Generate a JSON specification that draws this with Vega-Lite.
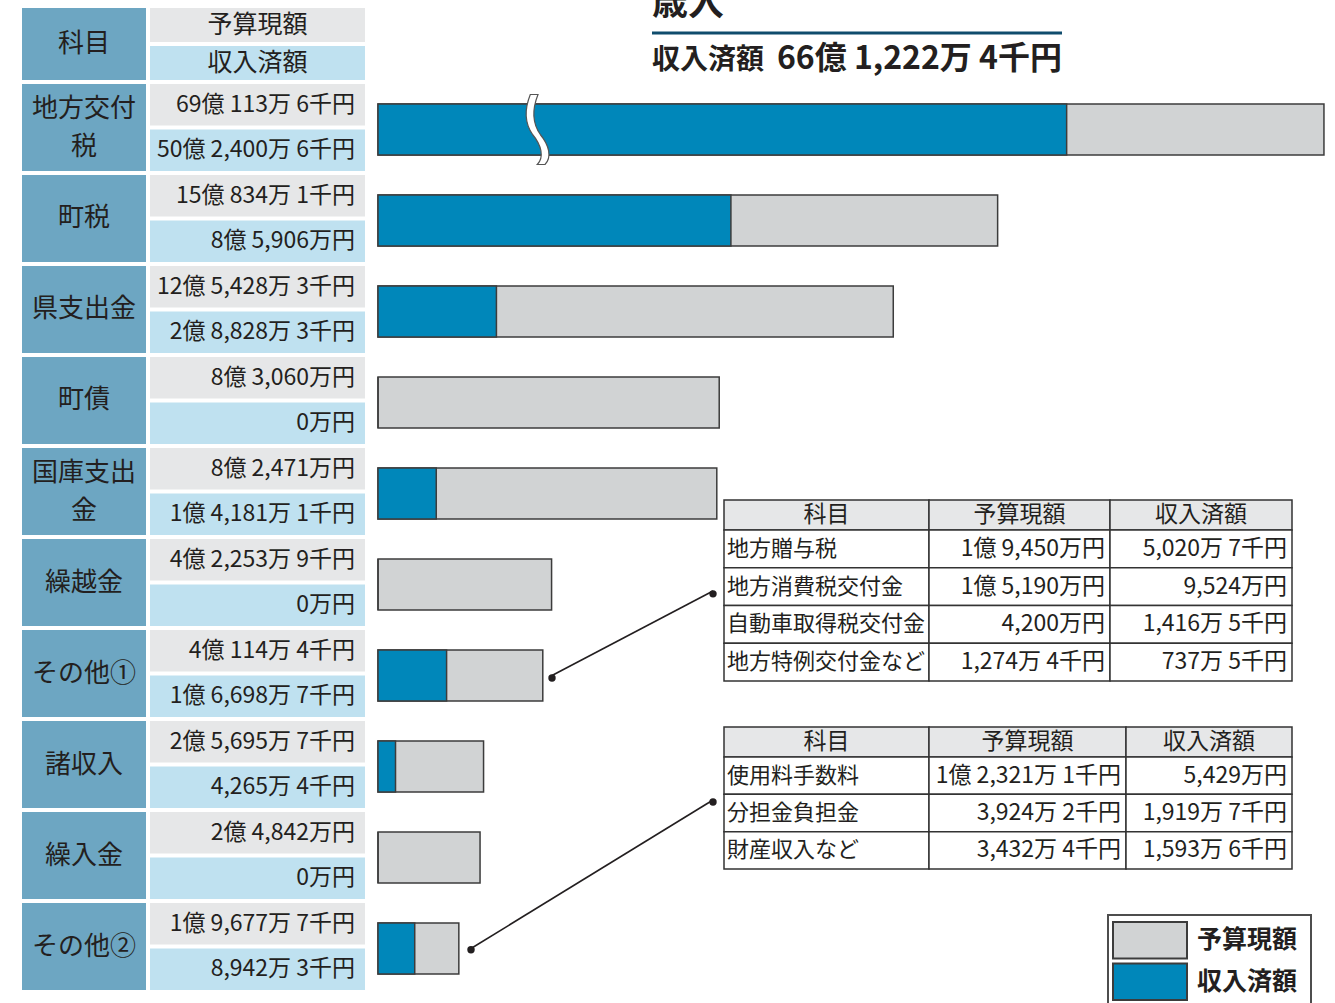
{
 "$schema": "https://vega.github.io/schema/vega-lite/v6.json",
 "background": "white",
 "padding": {"left": 22, "top": 0, "right": 0, "bottom": 0},
 "config": {"view": {"stroke": null}, "font": "Noto Sans CJK JP", "text": {"color": "#231f20"}},
 "datasets": {
  "items": [
   {"item": "地方交付税", "label": "地方交付\n税"},
   {"item": "町税", "label": "町税"},
   {"item": "県支出金", "label": "県支出金"},
   {"item": "町債", "label": "町債"},
   {"item": "国庫支出金", "label": "国庫支出\n金"},
   {"item": "繰越金", "label": "繰越金"},
   {"item": "その他①", "label": "その他①"},
   {"item": "諸収入", "label": "諸収入"},
   {"item": "繰入金", "label": "繰入金"},
   {"item": "その他②", "label": "その他②"}
  ],
  "amounts": [
   {"item": "地方交付税", "kind": "予算現額", "amount": 6901136, "text": "69億 113万 6千円"},
   {"item": "地方交付税", "kind": "収入済額", "amount": 5024006, "text": "50億 2,400万 6千円"},
   {"item": "町税", "kind": "予算現額", "amount": 1508341, "text": "15億 834万 1千円"},
   {"item": "町税", "kind": "収入済額", "amount": 859060, "text": "8億 5,906万円"},
   {"item": "県支出金", "kind": "予算現額", "amount": 1254283, "text": "12億 5,428万 3千円"},
   {"item": "県支出金", "kind": "収入済額", "amount": 288283, "text": "2億 8,828万 3千円"},
   {"item": "町債", "kind": "予算現額", "amount": 830600, "text": "8億 3,060万円"},
   {"item": "町債", "kind": "収入済額", "amount": 0, "text": "0万円"},
   {"item": "国庫支出金", "kind": "予算現額", "amount": 824710, "text": "8億 2,471万円"},
   {"item": "国庫支出金", "kind": "収入済額", "amount": 141811, "text": "1億 4,181万 1千円"},
   {"item": "繰越金", "kind": "予算現額", "amount": 422539, "text": "4億 2,253万 9千円"},
   {"item": "繰越金", "kind": "収入済額", "amount": 0, "text": "0万円"},
   {"item": "その他①", "kind": "予算現額", "amount": 401144, "text": "4億 114万 4千円"},
   {"item": "その他①", "kind": "収入済額", "amount": 166987, "text": "1億 6,698万 7千円"},
   {"item": "諸収入", "kind": "予算現額", "amount": 256957, "text": "2億 5,695万 7千円"},
   {"item": "諸収入", "kind": "収入済額", "amount": 42654, "text": "4,265万 4千円"},
   {"item": "繰入金", "kind": "予算現額", "amount": 248420, "text": "2億 4,842万円"},
   {"item": "繰入金", "kind": "収入済額", "amount": 0, "text": "0万円"},
   {"item": "その他②", "kind": "予算現額", "amount": 196777, "text": "1億 9,677万 7千円"},
   {"item": "その他②", "kind": "収入済額", "amount": 89423, "text": "8,942万 3千円"}
  ],
  "total": [{"heading": "歳入", "label": "収入済額", "amount": "66億 1,222万 4千円"}],
  "table1": [
   {"科目": "地方贈与税", "予算現額": "1億 9,450万円", "収入済額": "5,020万 7千円"},
   {"科目": "地方消費税交付金", "予算現額": "1億 5,190万円", "収入済額": "9,524万円"},
   {"科目": "自動車取得税交付金", "予算現額": "4,200万円", "収入済額": "1,416万 5千円"},
   {"科目": "地方特例交付金など", "予算現額": "1,274万 4千円", "収入済額": "737万 5千円"}
  ],
  "table2": [
   {"科目": "使用料手数料", "予算現額": "1億 2,321万 1千円", "収入済額": "5,429万円"},
   {"科目": "分担金負担金", "予算現額": "3,924万 2千円", "収入済額": "1,919万 7千円"},
   {"科目": "財産収入など", "予算現額": "3,432万 4千円", "収入済額": "1,593万 6千円"}
  ]
 },
 "spacing": 12,
 "hconcat": [
  {
   "spacing": 4,
   "vconcat": [
    {"spacing": 4, "bounds": "flush", "hconcat": [
     {
      "width": 124, "height": 80,
      "data": {"values": [{"col": "科目"}]},
      "encoding": {
       "x": {"field": "col", "type": "nominal", "axis": null, "scale": {"paddingInner": 0, "paddingOuter": 0}},
       "y": {"field": "col", "type": "nominal", "axis": null, "scale": {"range": [8, 80], "paddingInner": 0, "paddingOuter": 0}}
      },
      "layer": [
       {"mark": {"type": "rect", "fill": "#6da6c2"}},
       {"mark": {"type": "text", "fontSize": 26}, "encoding": {"text": {"field": "col"}}}
      ]
     },
     {
      "width": 215, "height": 80,
      "data": {"values": [{"kind": "予算現額"}, {"kind": "収入済額"}]},
      "encoding": {
       "x": {"datum": "金額", "type": "nominal", "axis": null, "scale": {"paddingInner": 0, "paddingOuter": 0}},
       "y": {"field": "kind", "type": "nominal", "axis": null, "sort": null, "scale": {"range": [8, 80], "paddingInner": 0.105, "paddingOuter": 0}}
      },
      "layer": [
       {"mark": {"type": "rect"}, "encoding": {"fill": {"field": "kind", "type": "nominal", "scale": {"domain": ["予算現額", "収入済額"], "range": ["#e6e7e8", "#bfe1f0"]}, "legend": null}}},
       {"mark": {"type": "text", "fontSize": 25}, "encoding": {"text": {"field": "kind"}}}
      ]
     }
    ]},
    {"spacing": 4, "bounds": "flush", "hconcat": [
     {
      "width": 124, "height": 906,
      "data": {"name": "items"},
      "encoding": {
       "x": {"datum": "科目", "type": "nominal", "axis": null, "scale": {"paddingInner": 0, "paddingOuter": 0}},
       "y": {"field": "item", "type": "nominal", "axis": null, "scale": {"domain": ["地方交付税", "町税", "県支出金", "町債", "国庫支出金", "繰越金", "その他①", "諸収入", "繰入金", "その他②"], "paddingInner": 0.044, "paddingOuter": 0}}
      },
      "layer": [
       {"mark": {"type": "rect", "fill": "#6da6c2"}},
       {"transform": [{"filter": "indexof(datum.label, '\\n') < 0"}], "mark": {"type": "text", "fontSize": 26}, "encoding": {"text": {"field": "label"}}},
       {"transform": [{"filter": "indexof(datum.label, '\\n') >= 0"}], "mark": {"type": "text", "fontSize": 26, "lineBreak": "\n", "lineHeight": 38, "dy": -18}, "encoding": {"text": {"field": "label"}}}
      ]
     },
     {
      "width": 215, "height": 906,
      "data": {"name": "amounts"},
      "encoding": {
       "x": {"datum": "金額", "type": "nominal", "axis": null, "scale": {"paddingInner": 0, "paddingOuter": 0}},
       "y": {"field": "item", "type": "nominal", "axis": null, "scale": {"domain": ["地方交付税", "町税", "県支出金", "町債", "国庫支出金", "繰越金", "その他①", "諸収入", "繰入金", "その他②"], "paddingInner": 0.044, "paddingOuter": 0}},
       "yOffset": {"field": "kind", "type": "nominal", "scale": {"domain": ["予算現額", "収入済額"], "paddingInner": 0.088, "paddingOuter": 0}}
      },
      "layer": [
       {"mark": {"type": "rect"}, "encoding": {"fill": {"field": "kind", "type": "nominal", "scale": {"domain": ["予算現額", "収入済額"], "range": ["#e6e7e8", "#bfe1f0"]}, "legend": null}}},
       {"mark": {"type": "text", "align": "right", "dx": -10, "fontSize": 23}, "encoding": {"x": {"datum": "金額", "type": "nominal", "bandPosition": 1, "axis": null, "scale": {"paddingInner": 0, "paddingOuter": 0}}, "text": {"field": "text"}}}
      ]
     }
    ]}
   ]
  },
  {
   "spacing": 4, "bounds": "flush", "center": true,
   "vconcat": [
    {
     "width": 410, "height": 80,
     "data": {"name": "total"},
     "layer": [
      {"mark": {"type": "text", "align": "left", "dx": -205, "dy": -36, "fontSize": 36, "fontWeight": "bold", "clip": true}, "encoding": {"text": {"field": "heading"}}},
      {"mark": {"type": "rule", "color": "#0f4c6d", "strokeWidth": 3, "yOffset": -7}, "encoding": {"y": {"field": "heading", "type": "nominal", "axis": null}}},
      {"mark": {"type": "text", "align": "left", "dx": -205, "dy": 21, "fontSize": 28, "fontWeight": "bold"}, "encoding": {"text": {"field": "label"}}},
      {"mark": {"type": "text", "align": "right", "dx": 205, "dy": 19, "fontSize": 32, "fontWeight": "bold"}, "encoding": {"text": {"field": "amount"}}}
     ]
    },
    {
     "width": 958, "height": 906,
     "resolve": {"scale": {"x": "independent", "y": "independent"}},
     "layer": [
      {
       "data": {"name": "amounts"},
       "transform": [{"filter": "datum.item !== '地方交付税'"}],
       "encoding": {
        "x": {"field": "amount", "type": "quantitative", "axis": null, "scale": {"domain": [0, 2332000], "nice": false, "zero": true}},
        "y": {"field": "item", "type": "nominal", "axis": null, "scale": {"domain": ["地方交付税", "町税", "県支出金", "町債", "国庫支出金", "繰越金", "その他①", "諸収入", "繰入金", "その他②"], "paddingInner": 0.43956, "paddingOuter": 0.1978, "align": 0.5556}}
       },
       "layer": [
        {"transform": [{"filter": "datum.kind === '予算現額'"}], "mark": {"type": "bar", "stroke": "#3c3c3c", "strokeWidth": 1.5},
         "encoding": {"color": {"field": "kind", "type": "nominal", "scale": {"domain": ["予算現額", "収入済額"], "range": ["#d1d3d4", "#0087ba"]}, "legend": null}}},
        {"transform": [{"filter": "datum.kind === '収入済額'"}], "mark": {"type": "bar", "stroke": "#3c3c3c", "strokeWidth": 1.5},
         "encoding": {"color": {"field": "kind", "type": "nominal", "legend": null}}}
       ]
      },
      {"data": {"values": [{"from": "その他①"}]}, "mark": {"type": "rule", "color": "#231f20", "strokeWidth": 1.6},
       "encoding": {
        "x": {"datum": 815470, "type": "quantitative", "axis": null, "scale": {"domain": [0, 2332000], "nice": false, "zero": true}},
        "x2": {"datum": 423560},
        "y": {"datum": "繰越金", "type": "nominal", "bandPosition": 0.627, "axis": null, "scale": {"domain": ["地方交付税", "町税", "県支出金", "町債", "国庫支出金", "繰越金", "その他①", "諸収入", "繰入金", "その他②"], "paddingInner": 0.43956, "paddingOuter": 0.1978, "align": 0.5556}},
        "y2": {"datum": "その他①"}}},
      {"data": {"values": [{"from": "その他①"}]}, "mark": {"type": "point", "filled": true, "color": "#231f20", "size": 55, "opacity": 1, "yOffset": 6.5},
       "encoding": {
        "x": {"datum": 815470, "type": "quantitative", "axis": null, "scale": {"domain": [0, 2332000], "nice": false, "zero": true}},
        "y": {"datum": "繰越金", "type": "nominal", "axis": null, "scale": {"domain": ["地方交付税", "町税", "県支出金", "町債", "国庫支出金", "繰越金", "その他①", "諸収入", "繰入金", "その他②"], "paddingInner": 0.43956, "paddingOuter": 0.1978, "align": 0.5556}}}},
      {"data": {"values": [{"from": "その他①"}]}, "mark": {"type": "point", "filled": true, "color": "#231f20", "size": 55, "opacity": 1},
       "encoding": {
        "x": {"datum": 423560, "type": "quantitative", "axis": null, "scale": {"domain": [0, 2332000], "nice": false, "zero": true}},
        "y": {"datum": "その他①", "type": "nominal", "axis": null, "scale": {"domain": ["地方交付税", "町税", "県支出金", "町債", "国庫支出金", "繰越金", "その他①", "諸収入", "繰入金", "その他②"], "paddingInner": 0.43956, "paddingOuter": 0.1978, "align": 0.5556}}}},
      {"data": {"values": [{"from": "その他②"}]}, "mark": {"type": "rule", "color": "#231f20", "strokeWidth": 1.6},
       "encoding": {
        "x": {"datum": 815470, "type": "quantitative", "axis": null, "scale": {"domain": [0, 2332000], "nice": false, "zero": true}},
        "x2": {"datum": 226380},
        "y": {"datum": "諸収入", "type": "nominal", "bandPosition": 1.157, "axis": null, "scale": {"domain": ["地方交付税", "町税", "県支出金", "町債", "国庫支出金", "繰越金", "その他①", "諸収入", "繰入金", "その他②"], "paddingInner": 0.43956, "paddingOuter": 0.1978, "align": 0.5556}},
        "y2": {"datum": "その他②"}}},
      {"data": {"values": [{"from": "その他②"}]}, "mark": {"type": "point", "filled": true, "color": "#231f20", "size": 55, "opacity": 1, "yOffset": 33.5},
       "encoding": {
        "x": {"datum": 815470, "type": "quantitative", "axis": null, "scale": {"domain": [0, 2332000], "nice": false, "zero": true}},
        "y": {"datum": "諸収入", "type": "nominal", "axis": null, "scale": {"domain": ["地方交付税", "町税", "県支出金", "町債", "国庫支出金", "繰越金", "その他①", "諸収入", "繰入金", "その他②"], "paddingInner": 0.43956, "paddingOuter": 0.1978, "align": 0.5556}}}},
      {"data": {"values": [{"from": "その他②"}]}, "mark": {"type": "point", "filled": true, "color": "#231f20", "size": 55, "opacity": 1},
       "encoding": {
        "x": {"datum": 226380, "type": "quantitative", "axis": null, "scale": {"domain": [0, 2332000], "nice": false, "zero": true}},
        "y": {"datum": "その他②", "type": "nominal", "axis": null, "scale": {"domain": ["地方交付税", "町税", "県支出金", "町債", "国庫支出金", "繰越金", "その他①", "諸収入", "繰入金", "その他②"], "paddingInner": 0.43956, "paddingOuter": 0.1978, "align": 0.5556}}}},
      {
       "data": {"name": "amounts"},
       "transform": [{"filter": "datum.item === '地方交付税'"}],
       "encoding": {
        "x": {"field": "amount", "type": "quantitative", "axis": null, "scale": {"domain": [0, 6989000], "nice": false, "zero": true}},
        "y": {"field": "item", "type": "nominal", "axis": null, "scale": {"domain": ["地方交付税", "町税", "県支出金", "町債", "国庫支出金", "繰越金", "その他①", "諸収入", "繰入金", "その他②"], "paddingInner": 0.43956, "paddingOuter": 0.1978, "align": 0.5556}}
       },
       "layer": [
        {"transform": [{"filter": "datum.kind === '予算現額'"}], "mark": {"type": "bar", "stroke": "#3c3c3c", "strokeWidth": 1.5}, "encoding": {"color": {"field": "kind", "type": "nominal", "legend": null}}},
        {"transform": [{"filter": "datum.kind === '収入済額'"}], "mark": {"type": "bar", "stroke": "#3c3c3c", "strokeWidth": 1.5}, "encoding": {"color": {"field": "kind", "type": "nominal", "legend": null}}},
        {"transform": [{"filter": "datum.kind === '予算現額'"}],
         "mark": {"type": "point", "shape": "M-0.22,-1 C-0.38,-0.6 -0.4,-0.2 -0.15,0.15 C0.1,0.45 0.18,0.8 -0.02,1 L0.2,1 C0.4,0.8 0.32,0.45 0.07,0.15 C-0.18,-0.2 -0.16,-0.6 0,-1 Z", "filled": true, "fill": "white", "stroke": "#555555", "strokeWidth": 1.2, "size": 4900, "opacity": 1},
         "encoding": {"x": {"datum": 1167300, "type": "quantitative"}}}
       ]
      },
      {"data": {"values": [{"legend": "凡例"}]}, "mark": {"type": "rect", "fill": "white", "stroke": "#4d4d4d", "strokeWidth": 2},
       "encoding": {
        "x": {"field": "legend", "type": "nominal", "axis": null, "scale": {"range": [730, 933], "paddingInner": 0, "paddingOuter": 0}},
        "y": {"field": "legend", "type": "nominal", "axis": null, "scale": {"range": [831, 925], "paddingInner": 0, "paddingOuter": 0}}}},
      {"data": {"values": [{"kind": "予算現額"}, {"kind": "収入済額"}]},
       "encoding": {
        "x": {"datum": "記号", "type": "nominal", "axis": null, "scale": {"range": [735, 809], "paddingInner": 0, "paddingOuter": 0}},
        "y": {"field": "kind", "type": "nominal", "axis": null, "sort": null, "scale": {"domain": ["予算現額", "収入済額"], "range": [838, 916], "paddingInner": 0.12, "paddingOuter": 0}}},
       "layer": [
        {"mark": {"type": "rect", "stroke": "#3c3c3c", "strokeWidth": 2}, "encoding": {"color": {"field": "kind", "type": "nominal", "legend": null}}},
        {"mark": {"type": "text", "align": "left", "dx": 10, "fontSize": 25, "fontWeight": "bold"},
         "encoding": {"x": {"datum": "記号", "type": "nominal", "bandPosition": 1, "axis": null, "scale": {"range": [735, 809], "paddingInner": 0, "paddingOuter": 0}}, "text": {"field": "kind"}}}
       ]
      },
      {"data": {"values": [{"col": "科目"}]},
       "encoding": {"x": {"field": "col", "type": "nominal", "axis": null, "scale": {"range": [346, 551], "paddingInner": 0, "paddingOuter": 0}}, "y": {"field": "col", "type": "nominal", "axis": null, "scale": {"range": [416, 446], "paddingInner": 0, "paddingOuter": 0}}},
       "layer": [{"mark": {"type": "rect", "fill": "#e6e7e8", "stroke": "#333333", "strokeWidth": 1.5}}, {"mark": {"type": "text", "fontSize": 23}, "encoding": {"text": {"field": "col"}}}]},
      {"data": {"values": [{"col": "予算現額"}]},
       "encoding": {"x": {"field": "col", "type": "nominal", "axis": null, "scale": {"range": [551, 732], "paddingInner": 0, "paddingOuter": 0}}, "y": {"field": "col", "type": "nominal", "axis": null, "scale": {"range": [416, 446], "paddingInner": 0, "paddingOuter": 0}}},
       "layer": [{"mark": {"type": "rect", "fill": "#e6e7e8", "stroke": "#333333", "strokeWidth": 1.5}}, {"mark": {"type": "text", "fontSize": 23}, "encoding": {"text": {"field": "col"}}}]},
      {"data": {"values": [{"col": "収入済額"}]},
       "encoding": {"x": {"field": "col", "type": "nominal", "axis": null, "scale": {"range": [732, 914], "paddingInner": 0, "paddingOuter": 0}}, "y": {"field": "col", "type": "nominal", "axis": null, "scale": {"range": [416, 446], "paddingInner": 0, "paddingOuter": 0}}},
       "layer": [{"mark": {"type": "rect", "fill": "#e6e7e8", "stroke": "#333333", "strokeWidth": 1.5}}, {"mark": {"type": "text", "fontSize": 23}, "encoding": {"text": {"field": "col"}}}]},
      {"data": {"name": "table1"},
       "encoding": {"x": {"datum": "科目", "type": "nominal", "axis": null, "scale": {"range": [346, 551], "paddingInner": 0, "paddingOuter": 0}}, "y": {"field": "科目", "type": "nominal", "axis": null, "sort": null, "scale": {"range": [446, 597], "paddingInner": 0, "paddingOuter": 0}}},
       "layer": [{"mark": {"type": "rect", "fill": "white", "stroke": "#333333", "strokeWidth": 1.5}},
        {"mark": {"type": "text", "align": "left", "dx": 3, "fontSize": 22}, "encoding": {"x": {"datum": "科目", "type": "nominal", "bandPosition": 0, "axis": null, "scale": {"range": [346, 551], "paddingInner": 0, "paddingOuter": 0}}, "text": {"field": "科目"}}}]},
      {"data": {"name": "table1"},
       "encoding": {"x": {"datum": "予算現額", "type": "nominal", "axis": null, "scale": {"range": [551, 732], "paddingInner": 0, "paddingOuter": 0}}, "y": {"field": "科目", "type": "nominal", "axis": null, "sort": null, "scale": {"range": [446, 597], "paddingInner": 0, "paddingOuter": 0}}},
       "layer": [{"mark": {"type": "rect", "fill": "white", "stroke": "#333333", "strokeWidth": 1.5}},
        {"mark": {"type": "text", "align": "right", "dx": -5, "fontSize": 23}, "encoding": {"x": {"datum": "予算現額", "type": "nominal", "bandPosition": 1, "axis": null, "scale": {"range": [551, 732], "paddingInner": 0, "paddingOuter": 0}}, "text": {"field": "予算現額"}}}]},
      {"data": {"name": "table1"},
       "encoding": {"x": {"datum": "収入済額", "type": "nominal", "axis": null, "scale": {"range": [732, 914], "paddingInner": 0, "paddingOuter": 0}}, "y": {"field": "科目", "type": "nominal", "axis": null, "sort": null, "scale": {"range": [446, 597], "paddingInner": 0, "paddingOuter": 0}}},
       "layer": [{"mark": {"type": "rect", "fill": "white", "stroke": "#333333", "strokeWidth": 1.5}},
        {"mark": {"type": "text", "align": "right", "dx": -5, "fontSize": 23}, "encoding": {"x": {"datum": "収入済額", "type": "nominal", "bandPosition": 1, "axis": null, "scale": {"range": [732, 914], "paddingInner": 0, "paddingOuter": 0}}, "text": {"field": "収入済額"}}}]},
      {"data": {"values": [{"col": "科目"}]},
       "encoding": {"x": {"field": "col", "type": "nominal", "axis": null, "scale": {"range": [346, 551], "paddingInner": 0, "paddingOuter": 0}}, "y": {"field": "col", "type": "nominal", "axis": null, "scale": {"range": [643, 673], "paddingInner": 0, "paddingOuter": 0}}},
       "layer": [{"mark": {"type": "rect", "fill": "#e6e7e8", "stroke": "#333333", "strokeWidth": 1.5}}, {"mark": {"type": "text", "fontSize": 23}, "encoding": {"text": {"field": "col"}}}]},
      {"data": {"values": [{"col": "予算現額"}]},
       "encoding": {"x": {"field": "col", "type": "nominal", "axis": null, "scale": {"range": [551, 748], "paddingInner": 0, "paddingOuter": 0}}, "y": {"field": "col", "type": "nominal", "axis": null, "scale": {"range": [643, 673], "paddingInner": 0, "paddingOuter": 0}}},
       "layer": [{"mark": {"type": "rect", "fill": "#e6e7e8", "stroke": "#333333", "strokeWidth": 1.5}}, {"mark": {"type": "text", "fontSize": 23}, "encoding": {"text": {"field": "col"}}}]},
      {"data": {"values": [{"col": "収入済額"}]},
       "encoding": {"x": {"field": "col", "type": "nominal", "axis": null, "scale": {"range": [748, 914], "paddingInner": 0, "paddingOuter": 0}}, "y": {"field": "col", "type": "nominal", "axis": null, "scale": {"range": [643, 673], "paddingInner": 0, "paddingOuter": 0}}},
       "layer": [{"mark": {"type": "rect", "fill": "#e6e7e8", "stroke": "#333333", "strokeWidth": 1.5}}, {"mark": {"type": "text", "fontSize": 23}, "encoding": {"text": {"field": "col"}}}]},
      {"data": {"name": "table2"},
       "encoding": {"x": {"datum": "科目", "type": "nominal", "axis": null, "scale": {"range": [346, 551], "paddingInner": 0, "paddingOuter": 0}}, "y": {"field": "科目", "type": "nominal", "axis": null, "sort": null, "scale": {"range": [673, 785], "paddingInner": 0, "paddingOuter": 0}}},
       "layer": [{"mark": {"type": "rect", "fill": "white", "stroke": "#333333", "strokeWidth": 1.5}},
        {"mark": {"type": "text", "align": "left", "dx": 3, "fontSize": 22}, "encoding": {"x": {"datum": "科目", "type": "nominal", "bandPosition": 0, "axis": null, "scale": {"range": [346, 551], "paddingInner": 0, "paddingOuter": 0}}, "text": {"field": "科目"}}}]},
      {"data": {"name": "table2"},
       "encoding": {"x": {"datum": "予算現額", "type": "nominal", "axis": null, "scale": {"range": [551, 748], "paddingInner": 0, "paddingOuter": 0}}, "y": {"field": "科目", "type": "nominal", "axis": null, "sort": null, "scale": {"range": [673, 785], "paddingInner": 0, "paddingOuter": 0}}},
       "layer": [{"mark": {"type": "rect", "fill": "white", "stroke": "#333333", "strokeWidth": 1.5}},
        {"mark": {"type": "text", "align": "right", "dx": -5, "fontSize": 23}, "encoding": {"x": {"datum": "予算現額", "type": "nominal", "bandPosition": 1, "axis": null, "scale": {"range": [551, 748], "paddingInner": 0, "paddingOuter": 0}}, "text": {"field": "予算現額"}}}]},
      {"data": {"name": "table2"},
       "encoding": {"x": {"datum": "収入済額", "type": "nominal", "axis": null, "scale": {"range": [748, 914], "paddingInner": 0, "paddingOuter": 0}}, "y": {"field": "科目", "type": "nominal", "axis": null, "sort": null, "scale": {"range": [673, 785], "paddingInner": 0, "paddingOuter": 0}}},
       "layer": [{"mark": {"type": "rect", "fill": "white", "stroke": "#333333", "strokeWidth": 1.5}},
        {"mark": {"type": "text", "align": "right", "dx": -5, "fontSize": 23}, "encoding": {"x": {"datum": "収入済額", "type": "nominal", "bandPosition": 1, "axis": null, "scale": {"range": [748, 914], "paddingInner": 0, "paddingOuter": 0}}, "text": {"field": "収入済額"}}}]}
     ]
    }
   ]
  }
 ]
}
